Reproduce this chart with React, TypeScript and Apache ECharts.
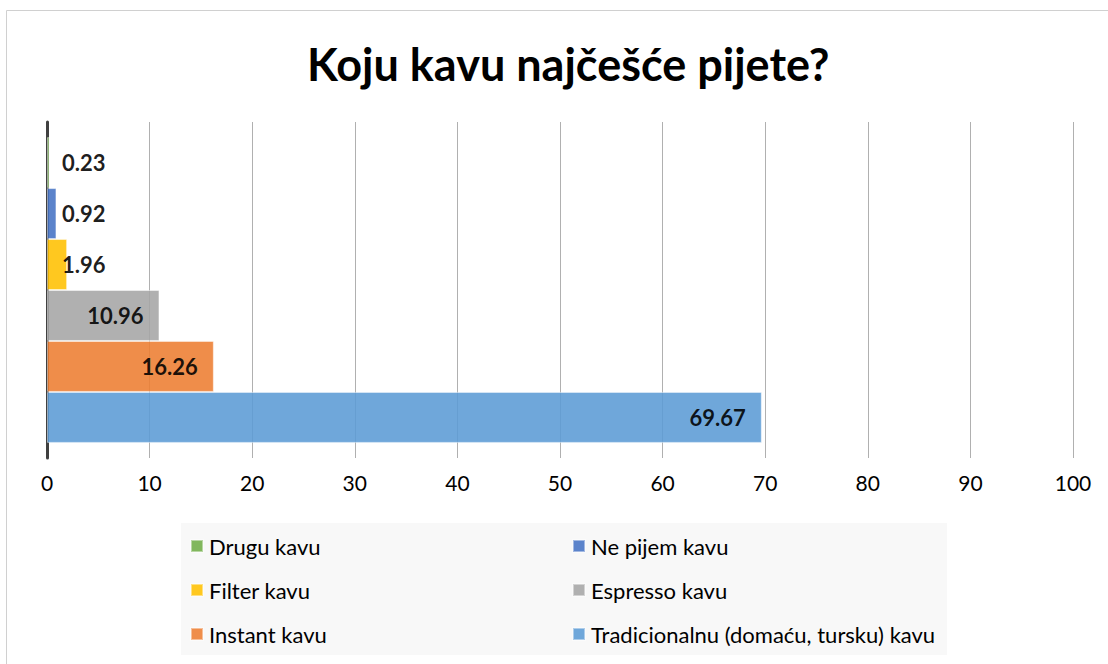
import React, { useEffect, useRef } from "react";
import * as echarts from "echarts";

const categories = [""];
const seriesNames = [
  "Drugu kavu",
  "Ne pijem kavu",
  "Filter kavu",
  "Espresso kavu",
  "Instant kavu",
  "Tradicionalnu (domaću, tursku) kavu",
];
const seriesValues = [0.23, 0.92, 1.96, 10.96, 16.26, 69.67];
const seriesColors = ["#70AD47", "#4472C4", "#FFC000", "#A5A5A5", "#ED7D31", "#5B9BD5"];
const xTicks = { min: 0, max: 100, interval: 10 };
const legendCol1 = ["Drugu kavu", "Filter kavu", "Instant kavu"];
const legendCol2 = ["Ne pijem kavu", "Espresso kavu", "Tradicionalnu (domaću, tursku) kavu"];

const FONT = "Lato, 'Open Sans', sans-serif";

export default function App() {
  const ref = useRef<HTMLDivElement>(null);
  useEffect(() => {
    if (!ref.current) return;
    const chart = echarts.init(ref.current, undefined, { renderer: "svg" });
    const series = seriesNames.map((name, i) => {
      const v = seriesValues[i];
      const label =
        v < 5
          ? { show: true, position: "insideLeft", distance: 15 }
          : { show: true, position: "insideRight", distance: 16 };
      return {
        name,
        type: "bar",
        data: [v],
        barGap: "0%",
        barCategoryGap: "9%",
        itemStyle: {
          color: seriesColors[i],
          opacity: 0.88,
          borderColor: "rgba(255,255,255,0.5)",
          borderWidth: 1,
        },
        label: {
          ...label,
          color: "#000",
          fontWeight: "bold",
          fontSize: 22,
          fontFamily: FONT,
          formatter: (p: any) => p.value.toFixed(2),
        },
        z: 1,
      };
    });
    const legendCommon = {
      orient: "vertical",
      top: 535,
      height: 125,
      padding: 0,
      itemWidth: 12,
      itemHeight: 12,
      itemGap: 22,
      icon: "rect",
      textStyle: { fontSize: 22, color: "#000", fontFamily: FONT, padding: [0, 0, 0, 1] },
    };
    chart.setOption({
      animation: false,
      title: {
        text: "Koju kavu najčešće pijete?",
        left: 302,
        top: 36,
        textStyle: { fontSize: 45, fontWeight: "bold", color: "#000", fontFamily: FONT },
      },
      graphic: [
        {
          type: "rect",
          shape: { x: 6.5, y: 10.5, width: 1300, height: 900 },
          style: { fill: "none", stroke: "#d0d0d0", lineWidth: 1 },
          silent: true,
        },
        {
          type: "rect",
          shape: { x: 181, y: 523, width: 766, height: 132 },
          style: { fill: "#f8f8f8" },
          silent: true,
          z: -1,
        },
      ],
      legend: [
        { ...legendCommon, data: legendCol1, left: 190 },
        { ...legendCommon, data: legendCol2, left: 572 },
      ],
      grid: { left: 47, right: 35, top: 122, bottom: 206, containLabel: false },
      xAxis: {
        type: "value",
        min: xTicks.min,
        max: xTicks.max,
        interval: xTicks.interval,
        axisLine: { show: false },
        axisTick: { show: false },
        splitLine: { show: true, lineStyle: { color: "#b0b0b0", width: 1 } },
        axisLabel: { fontSize: 21, color: "#000", fontFamily: FONT, margin: 14 },
      },
      yAxis: {
        type: "category",
        data: categories,
        axisLine: { show: true, lineStyle: { color: "#404040", width: 3 } },
        axisTick: { show: false },
        axisLabel: { show: false },
      },
      series,
    });
    return () => chart.dispose();
  }, []);
  return (
    <div
      ref={ref}
      style={{ position: "absolute", left: 0, top: 0, width: 1108, height: 664, background: "#fff" }}
    />
  );
}
